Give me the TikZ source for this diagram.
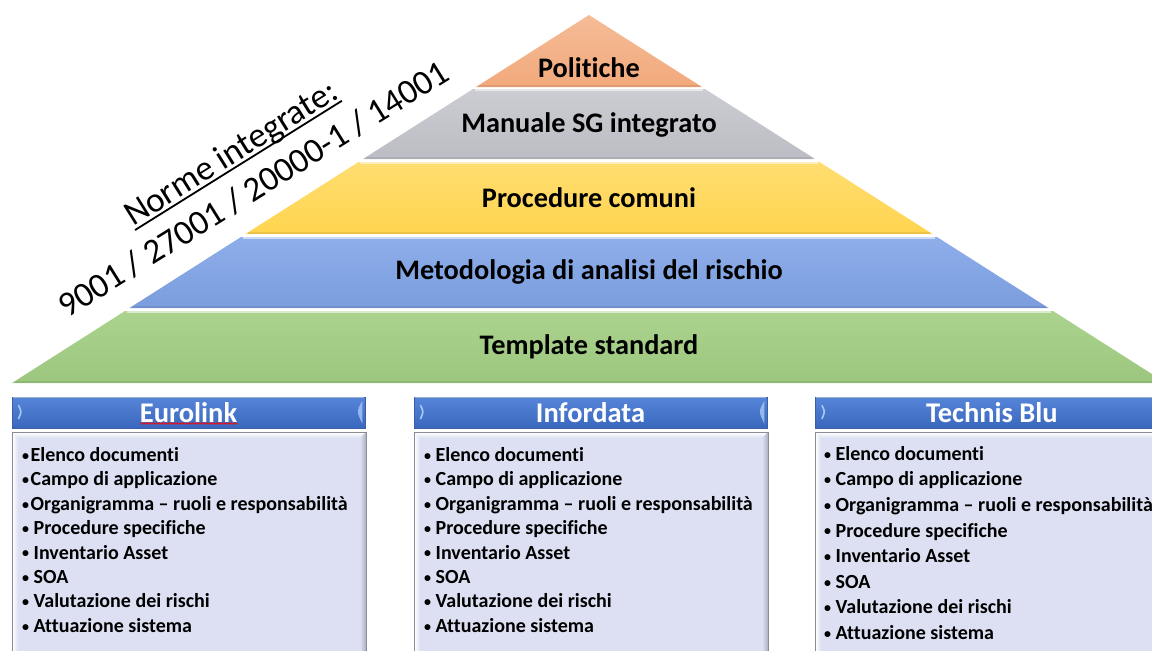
\documentclass[tikz,border=0pt]{standalone}
\usepackage{fontspec}
\setmainfont{Carlito}[Ligatures={NoCommon}]
\usetikzlibrary{decorations.pathmorphing}
\definecolor{cOrange}{HTML}{F2A97C}
\definecolor{cOrangeL}{HTML}{F5BC96}
\definecolor{cGray}{HTML}{BCBCC4}
\definecolor{cGrayL}{HTML}{CCCCD3}
\definecolor{cYellow}{HTML}{FFD44F}
\definecolor{cYellowL}{HTML}{FFDD70}
\definecolor{cBlue}{HTML}{7B9DDD}
\definecolor{cBlueL}{HTML}{8EAEEA}
\definecolor{cGreen}{HTML}{9CC67E}
\definecolor{cGreenL}{HTML}{ABD38E}
\definecolor{hdrTop}{HTML}{5585D8}
\definecolor{hdrBot}{HTML}{3A67BD}
\definecolor{hdrLine}{HTML}{3A5FA8}
\definecolor{hdrHi}{HTML}{A8C8F8}
\definecolor{bodyFill}{HTML}{DCE0F2}
\definecolor{bodyLine}{HTML}{8C8C98}
\definecolor{bodyShade}{HTML}{B2B4C4}
\newcommand\bul{\raisebox{0.12ex}{\fontsize{14}{14}\selectfont\textbullet}}
\newcommand\myul[1]{\setbox0\hbox{#1}\rlap{\rule[-4.5pt]{\wd0}{1.8pt}}\box0}
\tikzset{
  pyrlabel/.style={font=\fontsize{28.3}{32}\selectfont\bfseries, text=black, inner sep=0pt},
  hdrbox/.style={top color=hdrTop, bottom color=hdrBot, draw=hdrLine, line width=0.8pt,
    minimum height=31pt, inner sep=0pt, text=white,
    font=\fontsize{28.5}{30}\selectfont\bfseries},
  bodybox/.style={fill=bodyFill, draw=bodyLine, line width=1pt, inner sep=0pt, anchor=north west},
  listtext/.style={font=\fontsize{20}{24.4}\selectfont\bfseries, align=left, inner sep=0pt, anchor=west, text=black},
}
\begin{document}
\begin{tikzpicture}[x=1pt,y=-1pt]
\useasboundingbox (0,0) rectangle (1152,651);
\clip (0,0) rectangle (1152,651);

% pyramid bands
\shade[top color=cOrangeL, bottom color=cOrange] (589,15) -- (702,87) -- (476,87) -- cycle;
\shade[top color=cGrayL, bottom color=cGray] (473,89) -- (705,89) -- (815,159) -- (363,159) -- cycle;
\shade[top color=cYellowL, bottom color=cYellow] (358.5,162) -- (819.5,162) -- (932.5,234) -- (245.5,234) -- cycle;
\shade[top color=cBlueL, bottom color=cBlue] (241,237) -- (937,237) -- (1048.5,308) -- (129.5,308) -- cycle;
\shade[top color=cGreenL, bottom color=cGreen] (125,311) -- (1053,311) -- (1166,383) -- (12,383) -- cycle;
% top highlights
\draw[white, opacity=0.55, line width=1.5pt] (475,89.8) -- (703,89.8);
\draw[white, opacity=0.55, line width=1.5pt] (360,162.8) -- (818,162.8);
\draw[white, opacity=0.55, line width=1.5pt] (243,237.8) -- (935,237.8);
\draw[white, opacity=0.55, line width=1.5pt] (127,311.8) -- (1051,311.8);
% bottom shadows
\draw[black, opacity=0.08, line width=2pt] (478,86) -- (700,86);
\draw[black, opacity=0.08, line width=2pt] (366,158) -- (812,158);
\draw[black, opacity=0.08, line width=2pt] (248,233) -- (930,233);
\draw[black, opacity=0.08, line width=2pt] (132,307) -- (1046,307);
\draw[black, opacity=0.08, line width=2pt] (15,382) -- (1163,382);

\node[pyrlabel] (politiche) at (589,68) {Politiche};
\node[pyrlabel] (manuale) at (589,125) {Manuale SG integrato};
\node[pyrlabel] (procedure) at (589,198) {Procedure comuni};
\node[pyrlabel] (metodologia) at (589,272) {Metodologia di analisi del rischio};
\node[pyrlabel] (template) at (589,347) {Template standard};

% rotated norms
\node[rotate=32, align=center, inner sep=0pt, font=\fontsize{35}{43}\selectfont] (norme) at (242,171)
  {\myul{Norme integrate:}\\9001 / 27001 / 20000-1 / 14001};

% headers
\node[hdrbox, minimum width=353pt] (eurolinkHdr) at (188.5,412.5) {Eurolink};
\node[hdrbox, minimum width=353pt] (infordataHdr) at (590.5,412.5) {Infordata};
\node[hdrbox, minimum width=353pt, anchor=west] (technisHdr) at (815,412.5) {Technis Blu};
\foreach \h in {eurolinkHdr, infordataHdr, technisHdr}{
  \draw[white, opacity=0.5, line width=0.8pt] ([xshift=1pt,yshift=-1pt]\h.north west) -- ([xshift=-1pt,yshift=-1pt]\h.north east);
  \draw[hdrHi, line width=1.6pt, line cap=round] ([xshift=7pt,yshift=-9pt]\h.north west) .. controls ([xshift=10pt,yshift=-15pt]\h.north west) .. ([xshift=7pt,yshift=-22pt]\h.north west);
}
\foreach \h in {eurolinkHdr, infordataHdr}{
  \fill[hdrHi, opacity=0.8] ([xshift=-3pt,yshift=-4pt]\h.north east) .. controls ([xshift=-9pt,yshift=-15pt]\h.north east) .. ([xshift=-3pt,yshift=-27pt]\h.north east) -- cycle;
}

\draw[red, line width=0.7pt, decorate, decoration={snake, amplitude=0.8pt, segment length=3pt}]
  ([xshift=-48pt,yshift=-11pt]eurolinkHdr.center) -- ([xshift=49pt,yshift=-11pt]eurolinkHdr.center);

% bodies
\node[bodybox, minimum width=353pt, minimum height=230pt] (eurolinkBody) at (12,432) {};
\node[bodybox, minimum width=353pt, minimum height=230pt] (infordataBody) at (414,432) {};
\node[bodybox, minimum width=353pt, minimum height=230pt] (technisBody) at (815,432) {};
\foreach \b in {eurolinkBody, infordataBody, technisBody}{
  \shade[left color=white, right color=bodyFill] ([xshift=0.5pt,yshift=-0.5pt]\b.north west) -- ([xshift=6pt,yshift=-6pt]\b.north west) -- ([xshift=6pt]\b.south west) -- ([xshift=0.5pt]\b.south west) -- cycle;
  \shade[top color=white, bottom color=bodyFill] ([xshift=0.5pt,yshift=-0.5pt]\b.north west) -- ([xshift=-0.5pt,yshift=-0.5pt]\b.north east) -- ([xshift=-6pt,yshift=-6pt]\b.north east) -- ([xshift=6pt,yshift=-6pt]\b.north west) -- cycle;
  \shade[left color=bodyFill, right color=bodyShade] ([xshift=-6pt,yshift=-6pt]\b.north east) -- ([xshift=-0.5pt,yshift=-0.5pt]\b.north east) -- ([xshift=-0.5pt]\b.south east) -- ([xshift=-6pt]\b.south east) -- cycle;
  \draw[bodyLine, line width=1pt] (\b.south west) -- (\b.north west) -- (\b.north east) -- (\b.south east);
}

\node[listtext] (eurolinkList) at (22,540) {%
\bul\hspace{1.5pt}Elenco documenti\\
\bul\hspace{1.5pt}Campo di applicazione\\
\bul\hspace{1.5pt}Organigramma – ruoli e responsabilità\\
\bul\ Procedure specifiche\\
\bul\ Inventario Asset\\
\bul\ SOA\\
\bul\ Valutazione dei rischi\\
\bul\ Attuazione sistema};
\node[listtext] (infordataList) at (424,540) {%
\bul\ Elenco documenti\\
\bul\ Campo di applicazione\\
\bul\ Organigramma – ruoli e responsabilità\\
\bul\ Procedure specifiche\\
\bul\ Inventario Asset\\
\bul\ SOA\\
\bul\ Valutazione dei rischi\\
\bul\ Attuazione sistema};
\node[listtext, font=\fontsize{20}{25.6}\selectfont\bfseries] (technisList) at (824,543) {%
\bul\ Elenco documenti\\
\bul\ Campo di applicazione\\
\bul\ Organigramma – ruoli e responsabilità\\
\bul\ Procedure specifiche\\
\bul\ Inventario Asset\\
\bul\ SOA\\
\bul\ Valutazione dei rischi\\
\bul\ Attuazione sistema};
\end{tikzpicture}
\end{document}
